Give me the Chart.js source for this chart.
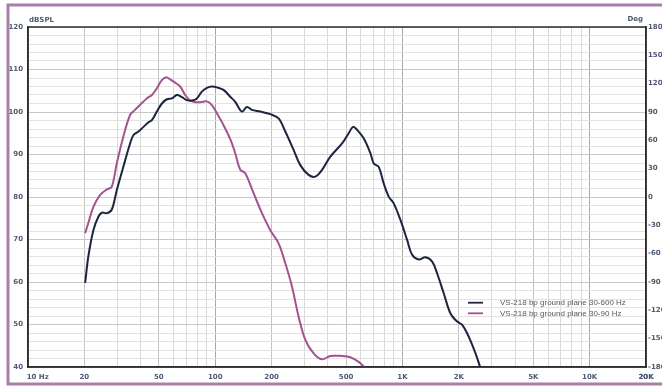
<!DOCTYPE html>
<html>
<head>
<meta charset="utf-8">
<script src="https://cdn.jsdelivr.net/npm/chart.js@4.4.0/dist/chart.umd.min.js"></script>
<style>
  html, body { margin: 0; padding: 0; background: #ffffff; }
  #wrap { width: 662px; height: 387px; position: relative; }
</style>
</head>
<body>
<div id="wrap"><canvas id="c" width="662" height="387"></canvas></div>
<script>
// ---- Data ----
const seriesNames = ["VS-218 bp ground plane 30-600 Hz", "VS-218 bp ground plane 30-90 Hz"];

const darkFreq = [20.2, 21.0, 22.35, 23.8, 24.8, 26.4, 28.0, 29.8, 32.3, 35.1, 36.6, 38.9, 41.4, 44.0, 45.9, 48.8, 51.9, 55.2, 58.7, 62.4, 66.4, 70.6, 75.1, 79.8, 84.9, 90.3, 96.0, 102.1, 110.8, 120.3, 127.9, 138.9, 147.7, 157.1, 174.0, 196.8, 218.0, 236.8, 262.2, 284.8, 315.4, 342.5, 372.1, 412.1, 476.0, 516.2, 544.9, 572.5, 620.9, 674.5, 702.4, 746.9, 794.3, 844.8, 898.4, 975.7, 1059.5, 1126.8, 1222.7, 1327.4, 1441.9, 1532.8, 1663.3, 1806.0, 1961.6, 2085.9, 2262.1, 2457.3, 2613];
const darkDb   = [59.8, 66.0, 72.2, 75.4, 76.3, 76.2, 77.0, 81.6, 87.1, 92.6, 94.6, 95.4, 96.5, 97.6, 98.1, 100.1, 102.0, 103.0, 103.2, 104.0, 103.5, 102.8, 102.7, 103.2, 104.8, 105.7, 106.0, 105.8, 105.2, 103.6, 102.4, 100.1, 101.2, 100.5, 100.1, 99.5, 98.5, 95.4, 91.1, 87.5, 85.2, 84.8, 86.4, 89.5, 92.6, 95.0, 96.5, 95.8, 93.8, 90.3, 87.9, 87.1, 83.2, 80.1, 78.5, 74.6, 69.9, 66.4, 65.3, 65.8, 64.8, 62.0, 57.3, 52.6, 50.7, 49.9, 47.1, 43.2, 39.7];

const pinkFreq = [20.2, 21.0, 22.35, 24.3, 26.4, 28.0, 29.8, 32.3, 35.1, 37.3, 39.7, 43.1, 45.9, 48.8, 51.9, 54.7, 57.4, 61.1, 65.0, 69.1, 73.5, 78.2, 83.2, 90.3, 96.0, 102.1, 110.8, 120.3, 127.9, 136.1, 144.7, 160.3, 177.7, 196.8, 218.0, 236.8, 257.2, 279.0, 302.9, 335.6, 372.1, 412.1, 476.0, 527.2, 583.8, 634.1];
const pinkDb   = [71.5, 73.9, 77.7, 80.5, 81.8, 82.4, 87.9, 94.2, 99.3, 100.5, 101.7, 103.2, 104.0, 105.6, 107.5, 108.2, 107.7, 106.9, 106.0, 104.0, 102.7, 102.3, 102.3, 102.5, 101.6, 99.7, 96.9, 93.6, 90.3, 86.4, 85.6, 80.9, 76.2, 72.2, 69.1, 64.4, 58.9, 51.8, 46.4, 43.2, 41.8, 42.6, 42.6, 42.3, 41.2, 39.7];

// Axis tick values / labels
const xDecades = [10, 100, 1000, 10000];
const xMultipliers = [1, 2, 3, 4, 5, 6, 7, 8, 9];
const xLabelMap = {10: "10 Hz", 20: "20", 50: "50", 100: "100", 200: "200", 500: "500", 1000: "1K", 2000: "2K", 5000: "5K", 10000: "10K", 20000: "20K"};
const leftTickLabels = [40, 50, 60, 70, 80, 90, 100, 110, 120];
const rightTickLabels = [-180, -150, -120, -90, -60, -30, 0, 30, 60, 90, 120, 150, 180];

const xGridValues = [];
xDecades.forEach(d => xMultipliers.forEach(m => xGridValues.push(d * m)));
xGridValues.push(20000);

const toPoints = (fs, ds) => fs.map((f, i) => ({x: f, y: ds[i]}));

const tickFont = {family: "DejaVu Sans", size: 7, weight: "bold"};
const tickColor = "#4d5b73";

const framePlugin = {
  id: "frame",
  beforeDraw(chart) {
    const ctx = chart.ctx;
    ctx.save();
    ctx.fillStyle = "#ffffff";
    ctx.fillRect(0, 0, chart.width, chart.height);
    ctx.restore();
  },
  afterDraw(chart) {
    const ctx = chart.ctx;
    const a = chart.chartArea;
    ctx.save();
    // plot box
    ctx.strokeStyle = "#2e2e2e";
    ctx.lineWidth = 1.5;
    ctx.strokeRect(a.left, a.top, a.right - a.left, a.bottom - a.top);
    // purple outer frame (right side runs off the picture)
    ctx.strokeStyle = "#a77fa9";
    ctx.lineWidth = 3;
    ctx.strokeRect(8, 5, 664, 379);
    // axis titles
    ctx.fillStyle = tickColor;
    ctx.font = "bold 7px 'DejaVu Sans'";
    ctx.textBaseline = "middle";
    ctx.textAlign = "left";
    ctx.fillText("dBSPL", 29, 20);
    ctx.textAlign = "right";
    ctx.fillText("Deg", 643, 19);
    // legend
    const lx = 468, ly = [302.7, 313.3];
    chart.data.datasets.forEach((ds, i) => {
      ctx.strokeStyle = ds.borderColor;
      ctx.lineWidth = 1.8;
      ctx.beginPath();
      ctx.moveTo(lx, ly[i]);
      ctx.lineTo(lx + 15, ly[i]);
      ctx.stroke();
      ctx.fillStyle = "#5a5a5a";
      ctx.font = "8px 'Liberation Sans'";
      ctx.textAlign = "left";
      ctx.fillText(ds.label, 500, ly[i]);
    });
    ctx.restore();
  }
};

new Chart(document.getElementById("c"), {
  type: "line",
  data: {
    datasets: [
      {label: seriesNames[0], data: toPoints(darkFreq, darkDb), borderColor: "#1d2440", borderWidth: 2, pointRadius: 0, tension: 0.35, yAxisID: "y"},
      {label: seriesNames[1], data: toPoints(pinkFreq, pinkDb), borderColor: "#a4538f", borderWidth: 2, pointRadius: 0, tension: 0.35, yAxisID: "y"}
    ]
  },
  plugins: [framePlugin],
  options: {
    responsive: false,
    animation: false,
    devicePixelRatio: 1,
    layout: {padding: {top: 27, left: 0, right: 0, bottom: 0}},
    plugins: {legend: {display: false}, tooltip: {enabled: false}},
    scales: {
      x: {
        type: "logarithmic",
        min: 10, max: 20000,
        afterBuildTicks: s => { s.ticks = xGridValues.map(v => ({value: v})); },
        afterFit: s => { s.height = 20; },
        ticks: {
          autoSkip: false, maxRotation: 0, padding: 6,
          font: tickFont, color: tickColor,
          callback: v => {
            const l = xLabelMap[v];
            if (!l) return "";
            return v === 10 ? "        " + l : l;
          }
        },
        grid: {
          drawTicks: false,
          color: c => {
            const v = c.tick ? c.tick.value : 0;
            const m = v / Math.pow(10, Math.floor(Math.log10(v) + 1e-9));
            if (Math.abs(m - 1) < 1e-6) return "#a8a8a8";
            if (Math.abs(m - 2) < 1e-6 || Math.abs(m - 5) < 1e-6) return "#c4c4c4";
            return "#dadada";
          },
          lineWidth: 1
        },
        border: {display: true, color: "#2e2e2e", width: 1.5}
      },
      y: {
        type: "linear", position: "left",
        min: 40, max: 120,
        afterFit: s => { s.width = 28; },
        ticks: {
          stepSize: 2, padding: 5, autoSkip: false,
          font: tickFont, color: tickColor,
          callback: v => leftTickLabels.includes(v) ? String(v) : ""
        },
        grid: {
          drawTicks: false,
          color: c => (c.tick && c.tick.value % 10 === 0) ? "#c8c8c8" : "#e2e2e2",
          lineWidth: 1
        },
        border: {display: true, color: "#2e2e2e", width: 1.5}
      },
      y2: {
        type: "linear", position: "right",
        min: -180, max: 180,
        afterFit: s => { s.width = 16; },
        afterBuildTicks: s => { s.ticks = rightTickLabels.map(v => ({value: v})); },
        ticks: {
          padding: 2, autoSkip: false,
          font: tickFont, color: tickColor,
          callback: v => String(v)
        },
        grid: {display: false, drawTicks: false},
        border: {display: true, color: "#2e2e2e", width: 1.5}
      }
    }
  }
});
</script>
</body>
</html>
